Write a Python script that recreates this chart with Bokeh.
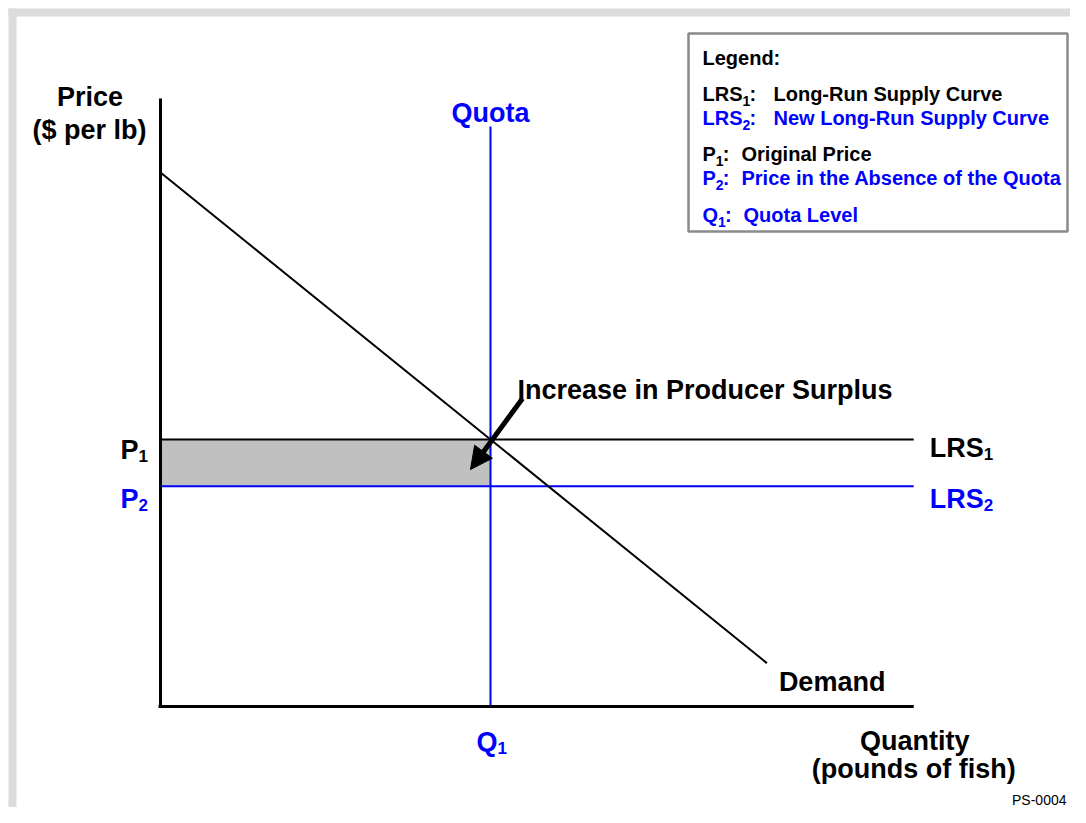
from bokeh.plotting import figure
from bokeh.models import Range1d, Arrow, NormalHead
from bokeh.core.properties import value
from bokeh.embed import file_html
from bokeh.resources import INLINE

# ---------------- data (economic units) ----------------
demand_q = [0.0, 7.35]
demand_p = [8.0, 0.65]
P1 = 4.0          # original price (LRS1)
P2 = 3.3          # price without quota (LRS2)
Q1 = 4.0          # quota level
Q_AXIS_MAX = 9.13
P_AXIS_MAX = 9.11
QUOTA_TOP = 8.69

legend_rows = [
    # base, subscript, description, colour
    ("LRS", "1", "Long-Run Supply Curve", "black"),
    ("LRS", "2", "New Long-Run Supply Curve", "#0000FF"),
    ("P", "1", "Original Price", "black"),
    ("P", "2", "Price in the Absence of the Quota", "#0000FF"),
    ("Q", "1", "Quota Level", "#0000FF"),
]

# ---------------- layout helpers (canvas pixel -> data) ----------------
W, H = 1070, 807
PX_Q = 82.5
PX_P = 66.75
OX, OY = 160.0, 706.0   # canvas px of origin


def X(px):
    return (px - OX) / PX_Q


def Y(py):
    return (OY - py) / PX_P


BLUE = "#0000FF"
FONT = value("Liberation Sans")
MAIN = 27
SUB = 17

p = figure(width=W, height=H, output_backend="svg", toolbar_location=None,
           x_range=Range1d(X(0), X(W)), y_range=Range1d(Y(H), Y(0)),
           x_axis_location=None, y_axis_location=None, tools="")
p.min_border = 0
p.min_border_left = 0
p.min_border_top = 0
p.min_border_right = 0
p.min_border_bottom = 0
p.border_fill_color = "white"
p.background_fill_color = "white"
p.outline_line_color = None
p.xgrid.visible = False
p.ygrid.visible = False


def txt(x, y, s, color="black", size=MAIN, align="left", xo=0, yo=0, bold=True):
    p.text(x=[x], y=[y], text=[s], text_color=color, text_font=FONT,
           text_font_style="bold" if bold else "normal",
           text_font_size=f"{size}px", text_align=align,
           text_baseline="alphabetic", x_offset=xo, y_offset=yo)


# grey slide frame
p.quad(left=[X(8), X(8)], right=[X(16), X(W)], top=[Y(8), Y(8)], bottom=[Y(H), Y(16)],
       fill_color="#dcdcdc", line_color=None)

# shaded producer-surplus rectangle
p.quad(left=[0], right=[Q1], bottom=[P2], top=[P1], fill_color="#c0c0c0", line_color=None)

# curves
p.line([0, Q_AXIS_MAX], [P1, P1], line_color="black", line_width=2)
p.line([0, Q_AXIS_MAX], [P2, P2], line_color=BLUE, line_width=2)
p.line([Q1, Q1], [0, QUOTA_TOP], line_color=BLUE, line_width=2)
p.line(demand_q, demand_p, line_color="black", line_width=2)

# axes
p.line([0, 0], [0, P_AXIS_MAX], line_color="black", line_width=3)
p.line([X(158), Q_AXIS_MAX], [0, 0], line_color="black", line_width=3)

# arrow
p.add_layout(Arrow(end=NormalHead(size=22, fill_color="black", line_color="black", line_width=1),
                   x_start=X(522), y_start=Y(398), x_end=X(470), y_end=Y(469),
                   line_width=5, line_color="black"))

# axis titles
txt(0, P_AXIS_MAX, "Price", align="center", xo=-70.5, yo=-1)
txt(0, P_AXIS_MAX, "($ per lb)", align="center", xo=-71, yo=32)
txt(Q_AXIS_MAX, 0, "Quantity", align="center", xo=1, yo=34)
txt(Q_AXIS_MAX, 0, "(pounds of fish)", align="center", xo=0, yo=62)

# price labels
txt(0, P1, "P", align="right", xo=-22, yo=10.5)
txt(0, P1, "1", size=SUB, align="left", xo=-22, yo=16.5)
txt(0, P2, "P", color=BLUE, align="right", xo=-22, yo=13)
txt(0, P2, "2", color=BLUE, size=SUB, align="left", xo=-22, yo=19)

# supply labels
txt(Q_AXIS_MAX, P1, "LRS", xo=16, yo=8.5)
txt(Q_AXIS_MAX, P1, "1", size=SUB, xo=70, yo=14.5)
txt(Q_AXIS_MAX, P2, "LRS", color=BLUE, xo=16, yo=13)
txt(Q_AXIS_MAX, P2, "2", color=BLUE, size=SUB, xo=70, yo=19)

# quota labels
txt(Q1, QUOTA_TOP, "Quota", color=BLUE, align="center", yo=-13.5)
txt(Q1, 0, "Q", color=BLUE, align="right", xo=7, yo=35.7)
txt(Q1, 0, "1", color=BLUE, size=SUB, align="left", xo=7, yo=41.5)

# annotations
txt(Q1, P1, "Increase in Producer Surplus", xo=27, yo=-50)
txt(demand_q[-1], demand_p[-1], "Demand", xo=12, yo=19)
txt(X(1066), Y(799), "PS-0004", size=14, align="right", bold=False)

# legend box
p.quad(left=[X(688)], right=[X(1067)], top=[Y(33)], bottom=[Y(231)],
       fill_color="white", line_color="#8a8a8a", line_width=2.5)
LEG_SIZE = 20
txt(X(702), Y(57), "Legend:", size=LEG_SIZE)
baselines = [93, 117, 153, 177, 214]
desc_x = [773, 773, 741, 741, 743]
for (base, sub, desc, col), bl, dx in zip(legend_rows, baselines, desc_x):
    base_w = {"LRS": 40.0, "P": 13.3, "Q": 15.6}[base]
    txt(X(702), Y(bl), base, color=col, size=LEG_SIZE)
    txt(X(702 + base_w), Y(bl + 7), sub, color=col, size=14)
    txt(X(702 + base_w + 7.0), Y(bl), ":", color=col, size=LEG_SIZE)
    txt(X(dx), Y(bl), desc, color=col, size=LEG_SIZE)

open("out.html", "w").write(file_html(p, INLINE))
